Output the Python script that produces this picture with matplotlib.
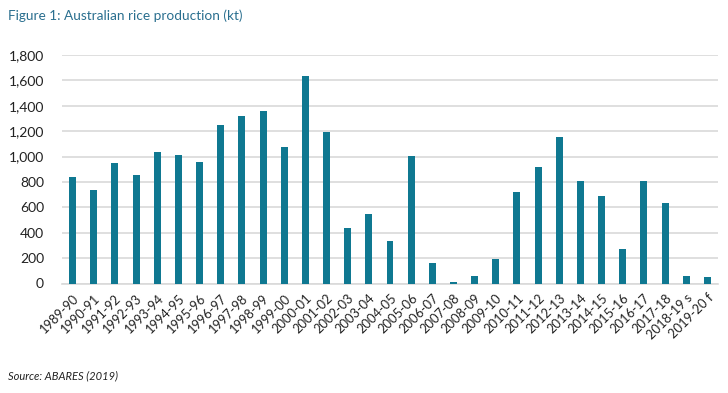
import numpy as np
import matplotlib
matplotlib.use("Agg")
from matplotlib import pyplot as plt

plt.rcParams['font.family'] = ['Lato', 'DejaVu Sans']

seasons = ['1989-90', '1990-91', '1991-92', '1992-93', '1993-94', '1994-95',
           '1995-96', '1996-97', '1997-98', '1998-99', '1999-00', '2000-01',
           '2001-02', '2002-03', '2003-04', '2004-05', '2005-06', '2006-07',
           '2007-08', '2008-09', '2009-10', '2010-11', '2011-12', '2012-13',
           '2013-14', '2014-15', '2015-16', '2016-17', '2017-18', '2018-19 s',
           '2019-20 f']
production = [840, 735, 950, 855, 1035, 1015, 960, 1250, 1320, 1355, 1075, 1635,
              1190, 437, 550, 331, 1003, 158, 10, 60, 194, 723, 918, 1155,
              810, 689, 271, 805, 631, 60, 53]
yticks = [0, 200, 400, 600, 800, 1000, 1200, 1400, 1600, 1800]

fig = plt.figure(figsize=(7.28, 3.93), dpi=100)
ax = fig.add_axes([62 / 728, 1 - 283.5 / 393, 656 / 728, 228.5 / 393])

x = np.arange(len(seasons))
ax.bar(x, production, width=0.33, color='#0f7891', zorder=3)

ax.set_xlim(-0.5, len(seasons) - 0.5)
ax.set_ylim(0, 1800)
ax.set_yticks(yticks)
ax.set_yticklabels([f'{v:,}' for v in yticks], fontsize=10, color='#222222')
ax.set_xticks(x)
ax.set_xticklabels(seasons, rotation=45, ha='right', rotation_mode='anchor',
                   fontsize=9.3, color='#222222')
ax.tick_params(length=0, axis='both')
ax.tick_params(axis='y', pad=13)
ax.tick_params(axis='x', pad=6)
ax.grid(axis='y', color='#d9d9d9', linewidth=1.2, zorder=0)
for s in ['top', 'right', 'left']:
    ax.spines[s].set_visible(False)
ax.spines['bottom'].set_color('#d9d9d9')
ax.spines['bottom'].set_linewidth(1.2)

fig.text(8 / 728, 1 - 16 / 393, 'Figure 1: Australian rice production (kt)',
         fontsize=9.8, color='#2a6f8f', va='center', ha='left')
fig.text(8 / 728, 1 - 376 / 393, 'Source: ABARES (2019)', fontsize=8,
         style='italic', color='#222222', va='center', ha='left')

fig.savefig('out.png', dpi=100)
